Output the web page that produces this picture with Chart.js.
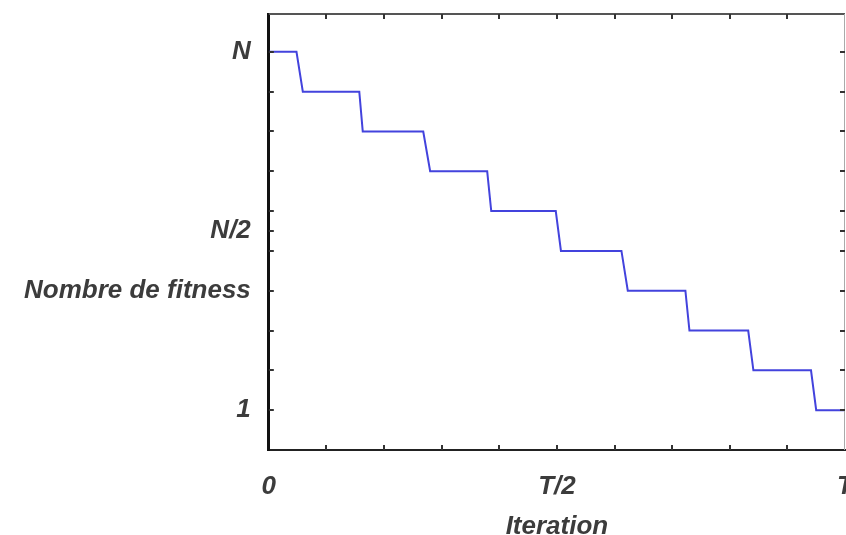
<!DOCTYPE html>
<html>
<head>
<meta charset="utf-8">
<script src="https://cdn.jsdelivr.net/npm/chart.js@4.4.0/dist/chart.umd.min.js"></script>
<style>
  html, body { margin: 0; padding: 0; background: #fff; overflow: hidden; }
  #wrap { width: 846px; height: 540px; }
</style>
</head>
<body>
<div id="wrap"><canvas id="fitnessChart" width="846" height="540"></canvas></div>
<script>
// step levels (N down to 1) and where each drop starts / ends on the iteration axis (T = 10)
const levels = [10, 9, 8, 7, 6, 5, 4, 3, 2, 1];
const dropStart = [0.48, 1.57, 2.68, 3.79, 4.98, 6.12, 7.23, 8.32, 9.41];
const dropEnd = [0.59, 1.63, 2.80, 3.86, 5.07, 6.23, 7.30, 8.41, 9.50];

// tick labels
const xTickValues = [0, 1, 2, 3, 4, 5, 6, 7, 8, 9, 10];
const xTickLabels = { 0: '0', 5: 'T/2', 10: 'T' };
const yTickValues = [1, 2, 3, 4, 5, 5.5, 6, 7, 8, 9, 10];
const yTickLabels = { 10: 'N', 5.5: 'N/2', 4: 'Nombre de fitness', 1: '1' };

// build the staircase from the arrays
const points = [{ x: 0, y: levels[0] }];
for (let i = 0; i < dropStart.length; i++) {
    points.push({ x: dropStart[i], y: levels[i] });
    points.push({ x: dropEnd[i], y: levels[i + 1] });
}
points.push({ x: 10, y: levels[levels.length - 1] });

const labelFont = { family: 'Liberation Sans', size: 26, weight: 'bold', style: 'italic', lineHeight: 1.0 };
const textColor = '#3c3c3c';

// frame (top / right) and inward tick marks
const frameTicks = {
    id: 'frameTicks',
    afterDraw(chart) {
        const { ctx, chartArea: a, scales } = chart;
        ctx.save();
        ctx.strokeStyle = '#555';
        ctx.lineWidth = 2;
        ctx.beginPath();
        ctx.moveTo(a.left, a.top);
        ctx.lineTo(a.right, a.top);
        ctx.stroke();
        ctx.strokeStyle = '#aaa';
        ctx.lineWidth = 1;
        ctx.beginPath();
        ctx.moveTo(a.right - 0.5, a.top);
        ctx.lineTo(a.right - 0.5, a.bottom);
        ctx.stroke();

        ctx.strokeStyle = '#333';
        ctx.lineWidth = 2;
        const len = 5;
        scales.x.ticks.forEach(t => {
            if (t.value <= 0 || t.value >= 10) return;
            const px = Math.round(scales.x.getPixelForValue(t.value));
            ctx.beginPath();
            ctx.moveTo(px, a.bottom);
            ctx.lineTo(px, a.bottom - len);
            ctx.moveTo(px, a.top);
            ctx.lineTo(px, a.top + len);
            ctx.stroke();
        });
        scales.y.ticks.forEach(t => {
            const py = Math.round(scales.y.getPixelForValue(t.value));
            ctx.beginPath();
            ctx.moveTo(a.left, py);
            ctx.lineTo(a.left + len, py);
            ctx.moveTo(a.right, py);
            ctx.lineTo(a.right - len, py);
            ctx.stroke();
        });
        ctx.restore();
    }
};

const ctx = document.getElementById('fitnessChart').getContext('2d');
const fitnessChart = new Chart(ctx, {
    type: 'line',
    data: {
        datasets: [{
            data: points,
            borderColor: '#4343dd',
            borderWidth: 2,
            pointRadius: 0,
            fill: false,
            tension: 0
        }]
    },
    options: {
        responsive: false,
        animation: false,
        layout: { padding: { left: 6, top: 14, right: 1, bottom: 0 } },
        plugins: { legend: { display: false }, tooltip: { enabled: false } },
        scales: {
            x: {
                type: 'linear',
                min: 0,
                max: 10,
                afterBuildTicks: s => { s.ticks = xTickValues.map(v => ({ value: v })); },
                afterFit: s => { s.paddingLeft = 0; s.paddingRight = 0; },
                grid: { display: false, drawTicks: false },
                border: { display: true, color: '#222', width: 2 },
                ticks: {
                    autoSkip: false,
                    maxRotation: 0,
                    padding: 24,
                    color: textColor,
                    font: labelFont,
                    callback: v => xTickLabels[v] || ''
                },
                title: {
                    display: true,
                    text: 'Iteration',
                    color: textColor,
                    font: labelFont,
                    padding: { top: -10, bottom: 0 }
                }
            },
            y: {
                type: 'linear',
                min: 0,
                max: 10.95,
                afterBuildTicks: s => { s.ticks = yTickValues.map(v => ({ value: v })); },
                afterFit: s => { s.paddingTop = 0; s.paddingBottom = 0; },
                grid: { display: false, drawTicks: false },
                border: { display: true, color: '#111', width: 3 },
                ticks: {
                    autoSkip: false,
                    padding: 18,
                    color: textColor,
                    font: labelFont,
                    callback: v => yTickLabels[v] || ''
                }
            }
        }
    },
    plugins: [frameTicks]
});
</script>
</body>
</html>
